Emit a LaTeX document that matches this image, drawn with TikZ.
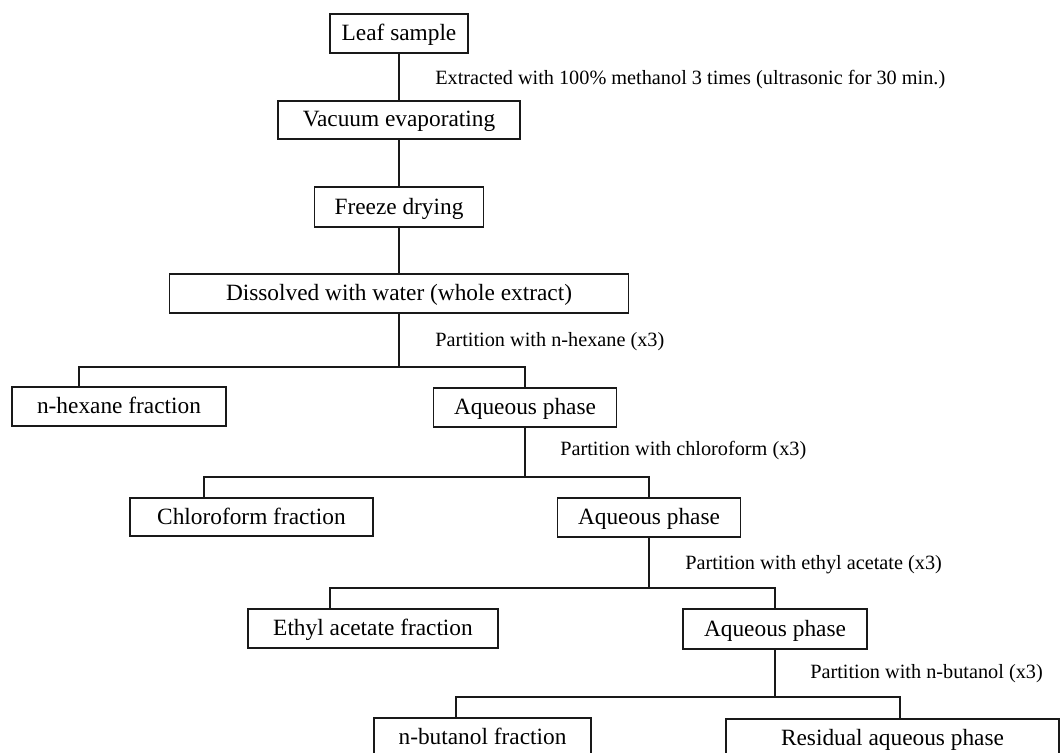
\documentclass[tikz,border=0pt]{standalone}
\usepackage{fontspec}
\setmainfont{Liberation Serif}
\begin{document}
\begin{tikzpicture}[x=0.75pt,y=-0.75pt,
  stepbox/.style={draw=black!90, line width=1pt, inner sep=0pt, text depth=0.15em, font=\fontsize{17.5}{20}\selectfont},
  lbl/.style={anchor=west, inner sep=0pt, font=\fontsize{15.2}{18}\selectfont},
  conn/.style={draw=black!90, line width=1pt}]
\useasboundingbox (0,0) rectangle (1062,752);
% boxes
\node[stepbox, minimum width=103.5pt, minimum height=29.25pt] (leaf) at (399,33.5) {Leaf sample};
\node[stepbox, minimum width=181.5pt, minimum height=28.5pt] (vac) at (399,120) {Vacuum evaporating};
\node[stepbox, minimum width=126.75pt, minimum height=30pt] (frz) at (399,207) {Freeze drying};
\node[stepbox, minimum width=344.25pt, minimum height=29.25pt] (diss) at (399,293.5) {Dissolved with water (whole extract)};
\node[stepbox, minimum width=160.5pt, minimum height=29.25pt] (hex) at (119,406.5) {n-hexane fraction};
\node[stepbox, minimum width=137.25pt, minimum height=29.25pt] (aq1) at (525,407.5) {Aqueous phase};
\node[stepbox, minimum width=182.25pt, minimum height=28.5pt] (chl) at (251.5,517) {Chloroform fraction};
\node[stepbox, minimum width=137.25pt, minimum height=29.25pt] (aq2) at (649,517.5) {Aqueous phase};
\node[stepbox, minimum width=187.5pt, minimum height=29.25pt] (eth) at (373,628.5) {Ethyl acetate fraction};
\node[stepbox, minimum width=138pt, minimum height=30pt] (aq3) at (775,629) {Aqueous phase};
\node[stepbox, minimum width=162.75pt, minimum height=29.25pt] (but) at (482.5,737.5) {n-butanol fraction};
\node[stepbox, minimum width=249.75pt, minimum height=29.25pt] (res) at (892.5,738.5) {Residual aqueous phase};
% labels
\node[lbl] (l1) at (435,80) {Extracted with 100\% methanol 3 times (ultrasonic for 30 min.)};
\node[lbl] (l2) at (435,342) {Partition with n-hexane (x3)};
\node[lbl] (l3) at (560,451) {Partition with chloroform (x3)};
\node[lbl] (l4) at (685,565) {Partition with ethyl acetate (x3)};
\node[lbl] (l5) at (810,674) {Partition with n-butanol (x3)};
% junction coordinates
\coordinate (j1) at (399,367);
\coordinate (h1) at (79,367);
\coordinate (j2) at (525,477);
\coordinate (h2) at (204,477);
\coordinate (j3) at (649,588);
\coordinate (h3) at (330,588);
\coordinate (j4) at (775,697);
\coordinate (h4) at (456,697);
\coordinate (r4) at (900,697);
% connectors
\draw[conn] (leaf.south) -- (vac.north);
\draw[conn] (vac.south) -- (frz.north);
\draw[conn] (frz.south) -- (diss.north);
\draw[conn] (diss.south) -- (j1);
\draw[conn] (h1 |- hex.north) -- (h1) -- (j1) -| (aq1.north);
\draw[conn] (aq1.south) -- (j2);
\draw[conn] (h2 |- chl.north) -- (h2) -- (j2) -| (aq2.north);
\draw[conn] (aq2.south) -- (j3);
\draw[conn] (h3 |- eth.north) -- (h3) -- (j3) -| (aq3.north);
\draw[conn] (aq3.south) -- (j4);
\draw[conn] (h4 |- but.north) -- (h4) -- (r4) -- (r4 |- res.north);
\end{tikzpicture}
\end{document}
